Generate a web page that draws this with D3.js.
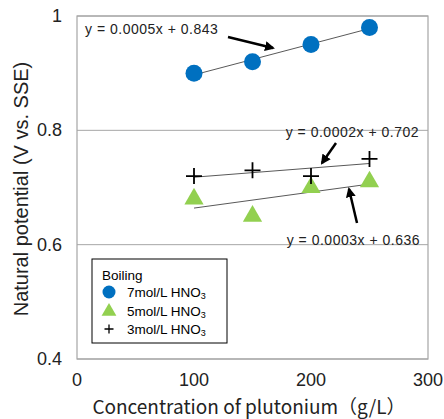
<!DOCTYPE html>
<html>
<head>
<meta charset="utf-8">
<script src="https://cdn.jsdelivr.net/npm/d3@7"></script>
<style>
  body { margin: 0; background: #fff; }
  text { font-family: "Liberation Sans", Arial, sans-serif; }
</style>
</head>
<body>
<div id="chart"></div>
<script>
// concentrations (g/L) and natural potential (V vs. SSE)
const concentrations = [100, 150, 200, 250];
const hno3_7mol = [0.90, 0.92, 0.95, 0.98];
const hno3_5mol = [0.68, 0.65, 0.70, 0.71];
const hno3_3mol = [0.72, 0.73, 0.72, 0.75];
const xTicks = [0, 100, 200, 300];
const yTicks = [0.4, 0.6, 0.8, 1.0];
const fitLabels = ["y = 0.0005x + 0.843", "y = 0.0003x + 0.636", "y = 0.0002x + 0.702"];

const width = 444, height = 419;
const margin = {top: 16, right: 16, bottom: 60, left: 77};

var svg = d3.select("#chart").append("svg")
    .attr("width", width)
    .attr("height", height);

const x = d3.scaleLinear().domain([0, 300]).range([margin.left, width - margin.right]);
const y = d3.scaleLinear().domain([0.4, 1.0]).range([height - margin.bottom, margin.top]);

// grid
svg.selectAll(".grid")
    .data(yTicks)
    .enter().append("line")
    .attr("x1", x(0)).attr("x2", x(300))
    .attr("y1", d => y(d)).attr("y2", d => y(d))
    .attr("stroke", "#a6a6a6").attr("stroke-width", 1);

svg.append("rect")
    .attr("x", x(0)).attr("y", y(1))
    .attr("width", x(300) - x(0)).attr("height", y(0.4) - y(1))
    .attr("fill", "none").attr("stroke", "#a6a6a6").attr("stroke-width", 1.2);

// tick labels
svg.selectAll(".ytick")
    .data(yTicks)
    .enter().append("text")
    .attr("x", x(0) - 15).attr("y", d => y(d) + 6)
    .attr("text-anchor", "end")
    .style("font-size", "18px").attr("fill", "#222")
    .text(d => d3.format("")(d));

svg.selectAll(".xtick")
    .data(xTicks)
    .enter().append("text")
    .attr("x", d => x(d)).attr("y", y(0.4) + 27)
    .attr("text-anchor", "middle")
    .style("font-size", "18px").attr("fill", "#222")
    .text(d => d);

// axis titles
svg.append("text")
    .attr("x", 249).attr("y", 414)
    .attr("text-anchor", "middle")
    .style("font-size", "19px").style("font-family", "'Noto Sans CJK JP', sans-serif").attr("fill", "#222")
    .text("Concentration of plutonium（g/L）");

svg.append("text")
    .attr("transform", "translate(28,189) rotate(-90)")
    .attr("text-anchor", "middle")
    .style("font-size", "20px").attr("fill", "#222")
    .text("Natural potential (V vs. SSE)");

// least squares trend
function fit(ys) {
  const mx = d3.mean(concentrations), my = d3.mean(ys);
  const b = d3.sum(concentrations, (c, i) => (c - mx) * (ys[i] - my)) / d3.sum(concentrations, c => (c - mx) ** 2);
  return c => my + b * (c - mx);
}

[hno3_7mol, hno3_5mol, hno3_3mol].forEach(ys => {
  const f = fit(ys);
  svg.append("line")
      .attr("x1", x(100)).attr("y1", y(f(100)))
      .attr("x2", x(250)).attr("y2", y(f(250)))
      .attr("stroke", "#595959").attr("stroke-width", 1);
});

const pts = ys => concentrations.map((c, i) => [c, ys[i]]);

svg.selectAll(".p7")
    .data(pts(hno3_7mol))
    .enter().append("circle")
    .attr("cx", d => x(d[0])).attr("cy", d => y(d[1]))
    .attr("r", 8.5).attr("fill", "#0070c0");

const tri = d3.symbol().type(d3.symbolTriangle).size(160);
svg.selectAll(".p5")
    .data(pts(hno3_5mol))
    .enter().append("path")
    .attr("transform", d => `translate(${x(d[0])},${y(d[1])})`)
    .attr("d", tri).attr("fill", "#92d050");

function plus(g, cx, cy, s, w) {
  g.append("path")
    .attr("d", `M${cx - s},${cy}H${cx + s}M${cx},${cy - s}V${cy + s}`)
    .attr("stroke", "#000").attr("stroke-width", w).attr("fill", "none");
}
pts(hno3_3mol).forEach(d => plus(svg, x(d[0]), y(d[1]), 8, 1.8));

// annotations
svg.append("defs").append("marker")
    .attr("id", "ah").attr("viewBox", "0 0 10 10")
    .attr("refX", 8).attr("refY", 5)
    .attr("markerWidth", 4).attr("markerHeight", 4)
    .attr("orient", "auto")
  .append("path").attr("d", "M0,0L10,5L0,10z").attr("fill", "#000");

const labelPos = [[85, 34, "start"], [420, 245, "end"], [419, 137, "end"]];
fitLabels.forEach((t, i) => {
  svg.append("text")
      .attr("x", labelPos[i][0]).attr("y", labelPos[i][1])
      .attr("text-anchor", labelPos[i][2])
      .style("font-size", "14px").style("letter-spacing", "0.5px").attr("fill", "#222")
      .text(t);
});

const arrows = [[228, 37, 273, 48], [357, 223, 349, 189], [336, 143, 322, 163]];
svg.selectAll(".arrow")
    .data(arrows)
    .enter().append("line")
    .attr("x1", d => d[0]).attr("y1", d => d[1])
    .attr("x2", d => d[2]).attr("y2", d => d[3])
    .attr("stroke", "#000").attr("stroke-width", 2.5)
    .attr("marker-end", "url(#ah)");

// legend
const legend = svg.append("g").attr("transform", "translate(92,259)");
legend.append("rect")
    .attr("width", 135).attr("height", 84)
    .attr("fill", "#fff").attr("stroke", "#000").attr("stroke-width", 1);
legend.append("text").attr("x", 10).attr("y", 21)
    .style("font-size", "13.5px").attr("fill", "#000").text("Boiling");
const legendNames = ["7mol/L HNO", "5mol/L HNO", "3mol/L HNO"];
legendNames.forEach((t, i) => {
  const ly = 33 + i * 18.5;
  if (i === 0) legend.append("circle").attr("cx", 17).attr("cy", ly).attr("r", 6.5).attr("fill", "#0070c0");
  if (i === 1) legend.append("path").attr("transform", `translate(17,${ly + 1})`).attr("d", d3.symbol().type(d3.symbolTriangle).size(95)).attr("fill", "#92d050");
  if (i === 2) plus(legend, 17, ly, 4.5, 1.3);
  const tx = legend.append("text").attr("x", 35).attr("y", ly + 5)
      .style("font-size", "13.5px").attr("fill", "#000").text(t);
  tx.append("tspan").attr("dy", 2).style("font-size", "9px").text("3");
});
</script>
</body>
</html>
